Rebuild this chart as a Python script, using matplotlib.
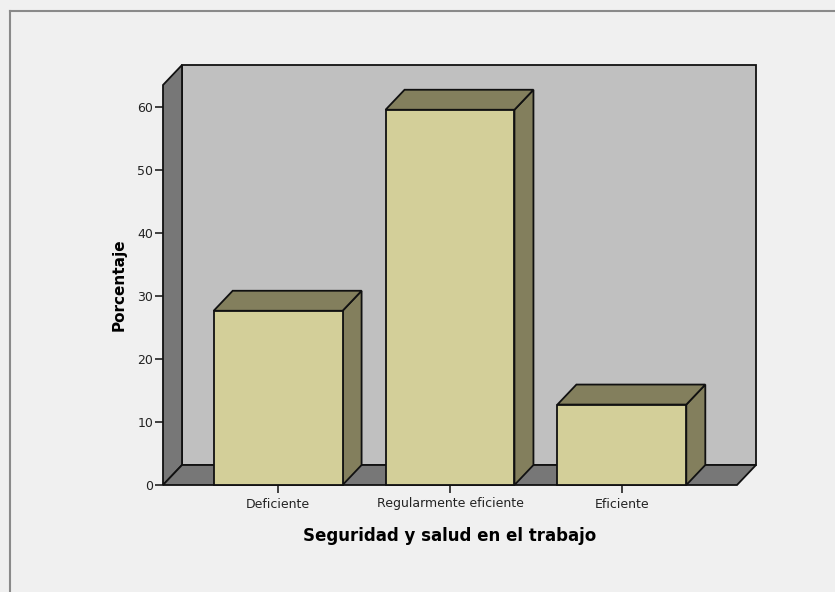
import numpy as np
import matplotlib
matplotlib.use("Agg")
import matplotlib.pyplot as plt
from matplotlib.patches import Polygon
from matplotlib.lines import Line2D

categories = ["Deficiente", "Regularmente eficiente", "Eficiente"]
porcentaje = [27.66, 59.57, 12.77]
yticks = [0, 10, 20, 30, 40, 50, 60]

W, H = 835, 592
fig = plt.figure(figsize=(W / 100, H / 100), dpi=100)
fig.patch.set_facecolor("#f0f0f0")

# front plane of the 3d box, in pixels
left_px, right_px, top_px, bottom_px = 163, 737, 85, 485
ax = fig.add_axes([left_px / W, 1 - bottom_px / H,
                   (right_px - left_px) / W, (bottom_px - top_px) / H])
ax.patch.set_visible(False)
for s in ax.spines.values():
    s.set_visible(False)

x0, x1 = -0.67, 2.67
ytop = 63.5
ax.set_xlim(x0, x1)
ax.set_ylim(0, ytop)

# depth of the pseudo-3d effect
depth_x, depth_y = 19, 20
dx = depth_x * (x1 - x0) / (right_px - left_px)
dy = depth_y * ytop / (bottom_px - top_px)

wall = "#c0c0c0"
dark = "#777777"
front = "#d3cf99"
shade = "#837f5d"
lw = 1.3

def poly(pts, color, z):
    ax.add_patch(Polygon(pts, closed=True, facecolor=color, edgecolor="#111111",
                         lw=lw, clip_on=False, zorder=z, joinstyle="miter"))

poly([(x0 + dx, dy), (x1 + dx, dy), (x1 + dx, ytop + dy), (x0 + dx, ytop + dy)], wall, 1)
poly([(x0, 0), (x0 + dx, dy), (x0 + dx, ytop + dy), (x0, ytop)], dark, 2)
poly([(x0, 0), (x1, 0), (x1 + dx, dy), (x0 + dx, dy)], dark, 2)

bw = 0.75
for i, v in enumerate(porcentaje):
    a, b = i - bw / 2, i + bw / 2
    poly([(b, 0), (b + dx, dy), (b + dx, v + dy), (b, v)], shade, 3)
    poly([(a, v), (b, v), (b + dx, v + dy), (a + dx, v + dy)], shade, 3)
    poly([(a, 0), (b, 0), (b, v), (a, v)], front, 4)

ax.set_yticks(yticks)
ax.set_xticks(range(len(categories)))
ax.set_xticklabels(categories)
ax.tick_params(axis="y", direction="out", length=6, width=1.2, color="#222222",
               labelsize=9, labelcolor="#222222", pad=1)
ax.tick_params(axis="x", direction="out", length=6, width=1.2, color="#222222",
               labelsize=9, labelcolor="#222222", pad=3)

ax.set_ylabel("Porcentaje", fontsize=11, fontweight="bold", labelpad=8)
ax.set_xlabel("Seguridad y salud en el trabajo", fontsize=12, fontweight="bold",
              labelpad=12)

# outer frame
fig.add_artist(Line2D([10 / W, 10 / W], [0, 1 - 11 / H], transform=fig.transFigure,
                      color="#8a8a8a", lw=1.5))
fig.add_artist(Line2D([10 / W, 1], [1 - 11 / H, 1 - 11 / H], transform=fig.transFigure,
                      color="#8a8a8a", lw=1.5))

fig.savefig("out.png", dpi=100, facecolor=fig.get_facecolor())
